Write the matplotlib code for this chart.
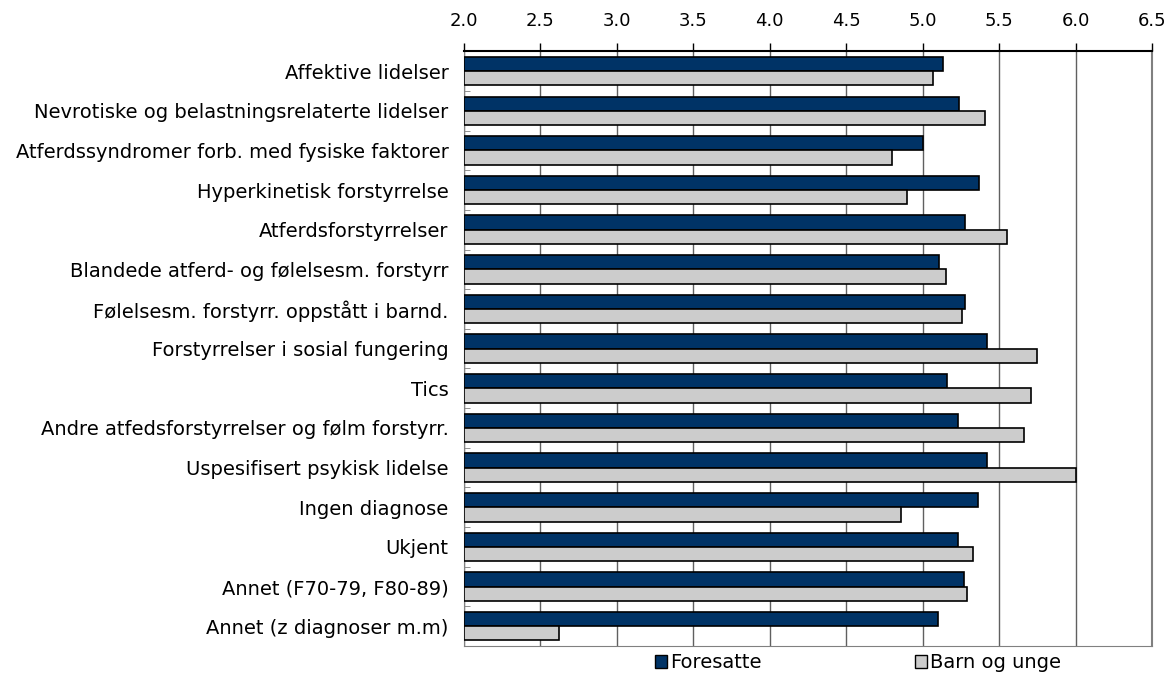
import numpy as np
import matplotlib
matplotlib.use('Agg')
from matplotlib import pyplot as plt
from matplotlib.patches import Patch

plt.rcParams['font.family'] = ['DejaVu Sans']

# data
categories = ['Affektive lidelser',
              'Nevrotiske og belastningsrelaterte lidelser',
              'Atferdssyndromer forb. med fysiske faktorer',
              'Hyperkinetisk forstyrrelse',
              'Atferdsforstyrrelser',
              'Blandede atferd- og følelsesm. forstyrr',
              'Følelsesm. forstyrr. oppstått i barnd.',
              'Forstyrrelser i sosial fungering',
              'Tics',
              'Andre atfedsforstyrrelser og følm forstyrr.',
              'Uspesifisert psykisk lidelse',
              'Ingen diagnose',
              'Ukjent',
              'Annet (F70-79, F80-89)',
              'Annet (z diagnoser m.m)']
foresatte = [5.13, 5.24, 5.00, 5.37, 5.28, 5.11, 5.28, 5.42, 5.16, 5.23, 5.42, 5.36, 5.23, 5.27, 5.10]
barn_unge = [5.07, 5.41, 4.80, 4.90, 5.55, 5.15, 5.26, 5.75, 5.71, 5.66, 6.00, 4.86, 5.33, 5.29, 2.62]
xticks = [2.0, 2.5, 3.0, 3.5, 4.0, 4.5, 5.0, 5.5, 6.0, 6.5]

dark = '#003366'
light = '#cccccc'

fig = plt.figure(figsize=(11.72, 6.77), dpi=100)
ax = fig.add_axes([0.3957, 0.0458, 0.5873, 0.8784])

y = np.arange(len(categories))
h = 0.36
ax.barh(y - h / 2, np.array(foresatte) - 2.0, left=2.0, height=h, color=dark,
        edgecolor='black', linewidth=1.2, zorder=3)
ax.barh(y + h / 2, np.array(barn_unge) - 2.0, left=2.0, height=h, color=light,
        edgecolor='black', linewidth=1.2, zorder=3)

ax.set_xlim(2.0, 6.5)
ax.set_ylim(len(categories) - 0.5, -0.5)
ax.set_xticks(xticks)
ax.set_xticklabels(['%.1f' % v for v in xticks])
ax.xaxis.tick_top()
ax.tick_params(axis='x', direction='out', length=6, width=1, colors='black',
               labelsize=13, pad=9)
ax.grid(axis='x', color='#606060', linewidth=1, zorder=0)

ax.set_yticks(y)
ax.set_yticklabels(categories, fontsize=14)
ax.set_yticks(np.arange(len(categories) + 1) - 0.5, minor=True)
ax.tick_params(axis='y', which='major', length=0, pad=11)
ax.tick_params(axis='y', which='minor', direction='in', length=4, color='#808080')

ax.spines['right'].set_color('#808080')
ax.spines['right'].set_linewidth(1.5)
ax.spines['top'].set_color('black')
ax.spines['top'].set_linewidth(1.5)
ax.spines['left'].set_color('#808080')
ax.spines['bottom'].set_color('#808080')

handles = [Patch(facecolor=dark, edgecolor='black', label='Foresatte'),
           Patch(facecolor=light, edgecolor='black', label='Barn og unge')]
fig.legend(handles=handles, loc='center', bbox_to_anchor=(0.732, 0.021), ncol=2,
           frameon=False, fontsize=14, handlelength=0.6, handleheight=0.6,
           handletextpad=0.15, columnspacing=7.9, borderpad=0)

plt.savefig('out.png', dpi=100)
